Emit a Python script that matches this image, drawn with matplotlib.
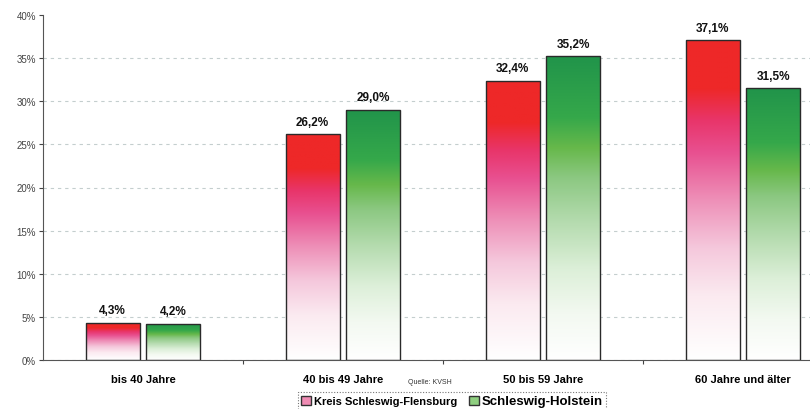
import matplotlib.pyplot as plt
import numpy as np
from matplotlib.colors import LinearSegmentedColormap
from matplotlib.patches import Rectangle, Patch
import matplotlib.ticker as mticker

# datos
categorias = ['bis 40 Jahre', '40 bis 49 Jahre', '50 bis 59 Jahre', '60 Jahre und älter']
kreis = [4.3, 26.2, 32.4, 37.1]
land = [4.2, 29.0, 35.2, 31.5]
etiquetas_kreis = ['4,3%', '26,2%', '32,4%', '37,1%']
etiquetas_land = ['4,2%', '29,0%', '35,2%', '31,5%']
nombres = ['Kreis Schleswig-Flensburg', 'Schleswig-Holstein']

plt.rcParams['font.family'] = ['Liberation Sans', 'DejaVu Sans']

# degradados (abajo blanco -> arriba color)
cmap_rojo = LinearSegmentedColormap.from_list('rojo', [
    (0.0, '#ffffff'), (0.2, '#fbeaf0'), (0.35, '#f5c8dc'), (0.5, '#ee90b8'),
    (0.65, '#e85090'), (0.75, '#e8356a'), (0.85, '#ee2828'), (1.0, '#ee2828')])
cmap_verde = LinearSegmentedColormap.from_list('verde', [
    (0.0, '#ffffff'), (0.15, '#f3f9f1'), (0.3, '#dcefd8'), (0.45, '#b6dcb0'),
    (0.6, '#8cc882'), (0.7, '#66b84a'), (0.8, '#35a84a'), (1.0, '#21944a')])

fig = plt.figure(figsize=(8.1, 4.1), dpi=100)
ax = fig.add_axes([43/810, 49/410, 800/810, 345/410])

x = np.arange(len(categorias))
ancho = 0.27
desp = 0.152
grad = np.linspace(0, 1, 256).reshape(-1, 1)

def barra_degradada(xc, h, cmap):
    x0 = xc - ancho / 2
    im = ax.imshow(grad, cmap=cmap, origin='lower', aspect='auto',
                   extent=[x0, x0 + ancho, 0, h], zorder=2)
    rect = Rectangle((x0, 0), ancho, h, facecolor='none', edgecolor='#2a2a2a',
                     linewidth=1.0, zorder=3)
    ax.add_patch(rect)
    im.set_clip_path(rect)

for i in range(len(categorias)):
    barra_degradada(x[i] - desp, kreis[i], cmap_rojo)
    barra_degradada(x[i] + desp, land[i], cmap_verde)
    ax.text(x[i] - desp, kreis[i] + 0.75, etiquetas_kreis[i], ha='center', va='bottom',
            fontsize=8.5, fontweight='bold', color='#111111')
    ax.text(x[i] + desp, land[i] + 0.75, etiquetas_land[i], ha='center', va='bottom',
            fontsize=8.5, fontweight='bold', color='#111111')

ax.set_xlim(-0.5, 3.5)
ax.set_ylim(0, 40)
ax.set_yticks(np.arange(0, 41, 5))
ax.yaxis.set_major_formatter(mticker.FuncFormatter(lambda v, p: f'{int(v)}%'))
ax.tick_params(axis='y', labelsize=7, colors='#444444', length=3, pad=2)
ax.grid(axis='y', linestyle=(0, (3, 3.5)), color='#c4cece', linewidth=0.8, zorder=0)
ax.set_axisbelow(True)
ax.yaxis.get_gridlines()[-1].set_visible(False)

# ticks de x en los limites de categorias, etiquetas en el centro
ax.set_xticks([0.5, 1.5, 2.5])
ax.set_xticklabels([])
ax.set_xticks(x, minor=True)
ax.set_xticklabels(categorias, minor=True, fontsize=8, fontweight='bold')
ax.tick_params(axis='x', which='minor', length=0, pad=10)
ax.tick_params(axis='x', which='major', length=3, color='#444444')

for s in ['top', 'right']:
    ax.spines[s].set_visible(False)
ax.spines['left'].set_color('#555555')
ax.spines['bottom'].set_color('#555555')

fig.text(430/810, 1 - 383/410, 'Quelle: KVSH', fontsize=5, ha='center', va='center', color='#333333')

# leyenda con borde punteado
h = [Patch(facecolor='#f08cb4', edgecolor='#333333'), Patch(facecolor='#8fcf80', edgecolor='#333333')]
leg = fig.legend(h, nombres, loc='center', bbox_to_anchor=(452/810, 1 - 402/410), ncol=2,
                 fontsize=8, frameon=True, handlelength=0.9, handleheight=0.9,
                 handletextpad=0.3, columnspacing=1.0, borderpad=0.25, fancybox=False)
leg.get_frame().set_linestyle((0, (1, 1.5)))
leg.get_frame().set_edgecolor('#555555')
leg.get_frame().set_linewidth(0.8)
for t in leg.get_texts():
    t.set_fontweight('bold')
leg.get_texts()[1].set_fontsize(9.5)

fig.savefig('out.png', dpi=100)
